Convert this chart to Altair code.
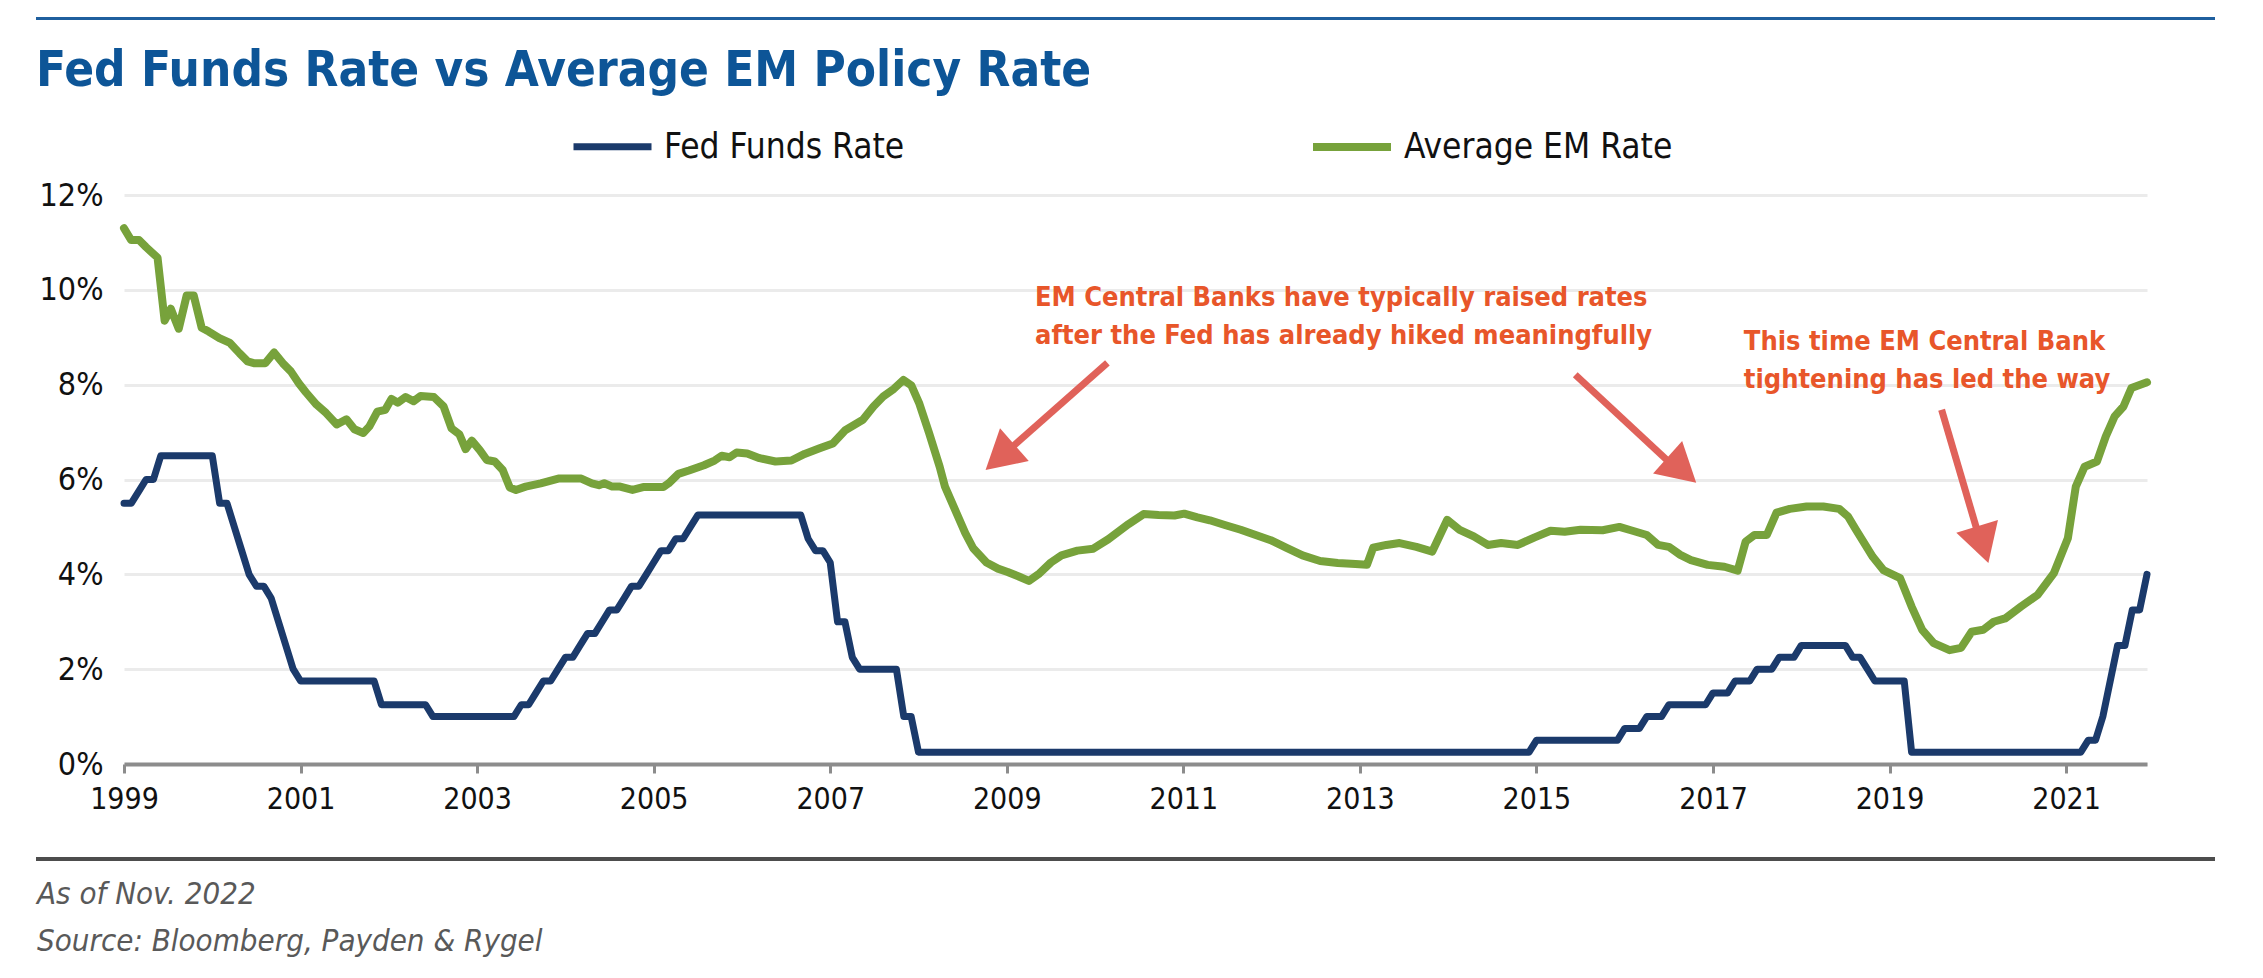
import altair as alt
import pandas as pd

FONT = "'DejaVu Sans Condensed', 'DejaVu Sans', sans-serif"

TITLE = "Fed Funds Rate vs Average EM Policy Rate"
SERIES = ["Fed Funds Rate", "Average EM Rate"]
COLORS = ["#1b3a6b", "#77a23b"]
WIDTHS = [7, 8]

X_START = 1999
LAST_MONTH = 275
x_ticks = list(range(1999, 2022, 2))
y_ticks = [0, 2, 4, 6, 8, 10, 12]

# Fed Funds Rate: month index from first observation (axis starts at "1999") and level, at each turn of the line
fed_month = [0, 1, 2, 3, 4, 5, 12, 13, 14, 15, 16, 17, 18, 19, 20, 21, 22, 23, 24, 34, 35, 41, 42, 53,
             54, 55, 56, 57, 58, 59, 60, 61, 62, 63, 64, 65, 66, 67, 68, 69, 70, 71, 72, 73, 74, 75, 76,
             77, 78, 92, 93, 94, 95, 96, 97, 98, 99, 100, 105, 106, 107, 108, 191, 192, 203, 204, 206,
             207, 209, 210, 215, 216, 218, 219, 221, 222, 224, 225, 227, 228, 234, 235, 236, 237, 238,
             242, 243, 266, 267, 268, 269, 270, 271, 272, 273, 274, 275]
fed_rate = [5.5, 5.5, 5.75, 6.0, 6.0, 6.5, 6.5, 5.5, 5.5, 5.0, 4.5, 4.0, 3.75, 3.75, 3.5, 3.0, 2.5, 2.0,
            1.75, 1.75, 1.25, 1.25, 1.0, 1.0,
            1.25, 1.25, 1.5, 1.75, 1.75, 2.0, 2.25, 2.25, 2.5, 2.75, 2.75, 3.0, 3.25, 3.25, 3.5, 3.75,
            3.75, 4.0, 4.25, 4.5, 4.5, 4.75, 4.75,
            5.0, 5.25, 5.25, 4.75, 4.5, 4.5, 4.25, 3.0, 3.0, 2.25, 2.0, 2.0, 1.0, 1.0, 0.25, 0.25, 0.5,
            0.5, 0.75, 0.75,
            1.0, 1.0, 1.25, 1.25, 1.5, 1.5, 1.75, 1.75, 2.0, 2.0, 2.25, 2.25, 2.5, 2.5, 2.25, 2.25, 2.0,
            1.75,
            1.75, 0.25, 0.25, 0.5, 0.5, 1.0, 1.75, 2.5, 2.5, 3.25, 3.25, 4.0]

# Average EM policy rate (axis years, %)
em_year = [1999.00, 1999.08, 1999.17, 1999.25, 1999.38, 1999.46, 1999.53, 1999.62, 1999.71, 1999.79,
           1999.88, 1999.96, 2000.08, 2000.20, 2000.31, 2000.40, 2000.48, 2000.60, 2000.70, 2000.80,
           2000.89, 2000.98, 2001.06, 2001.18, 2001.29, 2001.41, 2001.52, 2001.61, 2001.71, 2001.78,
           2001.87, 2001.96, 2002.03, 2002.10, 2002.19, 2002.28, 2002.36, 2002.51, 2002.62, 2002.71,
           2002.80, 2002.87, 2002.94, 2003.03, 2003.11, 2003.20, 2003.29, 2003.37, 2003.44, 2003.55,
           2003.72, 2003.92, 2004.18, 2004.30, 2004.38, 2004.44, 2004.53, 2004.62, 2004.76, 2004.88,
           2005.11, 2005.17, 2005.28, 2005.40, 2005.57, 2005.69, 2005.77, 2005.86, 2005.94, 2006.06,
           2006.20, 2006.38, 2006.56, 2006.71, 2006.88, 2007.03, 2007.17, 2007.37, 2007.49, 2007.60,
           2007.72, 2007.83, 2007.92, 2008.01, 2008.12, 2008.24, 2008.30, 2008.41, 2008.53, 2008.62,
           2008.77, 2008.90, 2009.01, 2009.13, 2009.25, 2009.37, 2009.50, 2009.62, 2009.80, 2009.98,
           2010.15, 2010.38, 2010.55, 2010.72, 2010.90, 2011.01, 2011.16, 2011.30, 2011.47, 2011.65,
           2011.82, 2011.99, 2012.17, 2012.35, 2012.55, 2012.75, 2012.95, 2013.08, 2013.15, 2013.30,
           2013.45, 2013.64, 2013.82, 2013.99, 2014.13, 2014.29, 2014.45, 2014.60, 2014.79, 2014.98,
           2015.16, 2015.32, 2015.50, 2015.75, 2015.94, 2016.07, 2016.25, 2016.38, 2016.50, 2016.63,
           2016.75, 2016.94, 2017.13, 2017.28, 2017.37, 2017.47, 2017.61, 2017.72, 2017.87, 2018.06,
           2018.25, 2018.43, 2018.53, 2018.62, 2018.81, 2018.93, 2019.12, 2019.25, 2019.37, 2019.50,
           2019.68, 2019.81, 2019.93, 2020.06, 2020.18, 2020.31, 2020.49, 2020.68, 2020.86, 2021.02,
           2021.11, 2021.21, 2021.35, 2021.45, 2021.55, 2021.65, 2021.74, 2021.917]
em_rate = [11.30, 11.05, 11.05, 10.90, 10.68, 9.35, 9.60, 9.18, 9.88, 9.88,
           9.20, 9.12, 8.98, 8.88, 8.66, 8.49, 8.45, 8.45, 8.68, 8.45,
           8.28, 8.03, 7.84, 7.58, 7.40, 7.16, 7.27, 7.06, 6.98, 7.12,
           7.43, 7.47, 7.70, 7.62, 7.74, 7.65, 7.76, 7.74, 7.54, 7.08,
           6.95, 6.64, 6.82, 6.62, 6.41, 6.38, 6.20, 5.83, 5.78, 5.85,
           5.92, 6.02, 6.02, 5.92, 5.88, 5.92, 5.85, 5.85, 5.78, 5.84,
           5.84, 5.92, 6.12, 6.19, 6.30, 6.40, 6.50, 6.47, 6.57, 6.55,
           6.45, 6.38, 6.40, 6.54, 6.66, 6.76, 7.04, 7.26, 7.54, 7.75,
           7.91, 8.10, 7.98, 7.60, 6.98, 6.27, 5.85, 5.38, 4.87, 4.55,
           4.25, 4.12, 4.05, 3.96, 3.86, 4.02, 4.25, 4.40, 4.50, 4.54,
           4.74, 5.06, 5.27, 5.25, 5.24, 5.28, 5.20, 5.14, 5.04, 4.94,
           4.83, 4.72, 4.56, 4.40, 4.28, 4.24, 4.22, 4.20, 4.56, 4.62,
           4.66, 4.58, 4.48, 5.15, 4.94, 4.80, 4.62, 4.66, 4.62, 4.78,
           4.92, 4.90, 4.94, 4.93, 5.00, 4.93, 4.83, 4.62, 4.58, 4.41,
           4.30, 4.20, 4.16, 4.08, 4.69, 4.83, 4.83, 5.30, 5.38, 5.43,
           5.43, 5.38, 5.22, 4.94, 4.37, 4.09, 3.92, 3.32, 2.83, 2.55,
           2.40, 2.45, 2.79, 2.83, 3.00, 3.07, 3.32, 3.57, 4.02, 4.76,
           5.85, 6.27, 6.38, 6.91, 7.33, 7.54, 7.93, 8.05]

# Annotations
ann_text = ["EM Central Banks have typically raised rates\nafter the Fed has already hiked meaningfully",
            "This time EM Central Bank\ntightening has led the way"]
ann_year = [2009.32, 2017.35]
ann_rate = [9.66, 8.74]

arrow_start_year = [2010.14, 2015.44, 2019.59]
arrow_start_rate = [8.46, 8.21, 7.47]
arrow_base_year = [2009.07, 2016.49, 2019.99]
arrow_base_rate = [6.70, 6.39, 4.94]
arrow_tip_year = [2008.76, 2016.81, 2020.12]
arrow_tip_rate = [6.20, 5.93, 4.24]
arrow_angle = [228.7, 131.8, 162.9]

footer_lines = ["As of Nov. 2022", "Source: Bloomberg, Payden & Rygel"]

# ---------------------------------------------------------------------------
fed_df = pd.DataFrame({"year": [X_START + m / 12 for m in fed_month], "rate": fed_rate, "series": SERIES[0]})
em_df = pd.DataFrame({"year": em_year, "rate": em_rate, "series": SERIES[1]})
lines_df = pd.concat([fed_df, em_df], ignore_index=True)

x_scale = alt.Scale(domain=[X_START, X_START + LAST_MONTH / 12], nice=False, zero=False)
y_scale = alt.Scale(domain=[0, 12], nice=False, zero=True)

lines = alt.Chart(lines_df).mark_line(strokeJoin="round", strokeCap="round").encode(
    x=alt.X("year:Q", scale=x_scale,
            axis=alt.Axis(values=x_ticks, format="d", title=None, grid=False,
                          domainColor="#8c8c8c", domainWidth=4, tickColor="#8c8c8c",
                          tickWidth=3, tickSize=9, labelFontSize=30, labelFont=FONT,
                          labelColor="#111111", labelPadding=11, labelFlush=False,
                          labelOverlap=False)),
    y=alt.Y("rate:Q", scale=y_scale,
            axis=alt.Axis(values=y_ticks, labelExpr="datum.value + '%'", title=None, grid=True,
                          gridColor="#ebebeb", gridWidth=3, domain=False, ticks=False,
                          labelFontSize=32, labelFont=FONT, labelColor="#111111",
                          labelPadding=21)),
    color=alt.Color("series:N", scale=alt.Scale(domain=SERIES, range=COLORS),
                    legend=alt.Legend(title=None, orient="none", legendX=446, legendY=-91,
                                      direction="horizontal", symbolType="stroke",
                                      symbolSize=6084, symbolStrokeWidth=8,
                                      labelFont=FONT, labelFontSize=35, labelColor="#111111",
                                      labelOffset=9, columnPadding=392, padding=0,
                                      labelLimit=600)),
    strokeWidth=alt.StrokeWidth("series:N", scale=alt.Scale(domain=SERIES, range=WIDTHS), legend=None),
)

ann_df = pd.DataFrame({"year": ann_year, "rate": ann_rate, "label": ann_text})
annotations = alt.Chart(ann_df).mark_text(
    align="left", baseline="alphabetic", font=FONT, fontSize=27, fontWeight="bold",
    color="#e8562a", lineBreak="\n", lineHeight=38
).encode(x=alt.X("year:Q", title=None), y=alt.Y("rate:Q", title=None), text="label:N")

shaft_df = pd.DataFrame({"year": arrow_start_year, "rate": arrow_start_rate,
                         "year2": arrow_base_year, "rate2": arrow_base_rate})
shafts = alt.Chart(shaft_df).mark_rule(strokeWidth=7, color="#e0625a").encode(
    x=alt.X("year:Q", title=None), y=alt.Y("rate:Q", title=None), x2="year2:Q", y2="rate2:Q")

head_df = pd.DataFrame({"year": arrow_tip_year, "rate": arrow_tip_rate, "angle": arrow_angle})
heads = alt.Chart(head_df).mark_point(
    shape="M0,0L1,1.76L-1,1.76Z", size=1900, filled=True, opacity=1, color="#e0625a", strokeWidth=0
).encode(x=alt.X("year:Q", title=None), y=alt.Y("rate:Q", title=None),
         angle=alt.Angle("angle:Q", scale=None))

one = pd.DataFrame({"t": [TITLE]})
title = alt.Chart(one).mark_text(
    align="left", baseline="alphabetic", font=FONT, fontSize=49, fontWeight="bold", color="#0d5597"
).encode(x=alt.value(-88), y=alt.value(-109), text="t:N")

top_rule = alt.Chart(one).mark_rule(color="#1f5f9e", strokeWidth=3).encode(
    x=alt.value(-88), x2=alt.value(2091), y=alt.value(-176.5))
foot_rule = alt.Chart(one).mark_rule(color="#4d4d4d", strokeWidth=4).encode(
    x=alt.value(-88), x2=alt.value(2091), y=alt.value(664))

foot1 = alt.Chart(pd.DataFrame({"t": [footer_lines[0]]})).mark_text(
    align="left", baseline="alphabetic", font=FONT, fontSize=31, fontStyle="italic", color="#595959"
).encode(x=alt.value(-87), y=alt.value(709), text="t:N")
foot2 = alt.Chart(pd.DataFrame({"t": [footer_lines[1]]})).mark_text(
    align="left", baseline="alphabetic", font=FONT, fontSize=31, fontStyle="italic", color="#595959"
).encode(x=alt.value(-87), y=alt.value(756), text="t:N")

chart = alt.layer(
    lines, shafts, heads, annotations, title, top_rule, foot_rule, foot1, foot2
).properties(
    width=2023, height=569,
    autosize=alt.AutoSizeParams(type="none"),
    padding={"left": 116, "top": 187, "right": 100, "bottom": 200},
).configure_view(stroke=None)

chart.save("out.html", embed_options={"renderer": "svg", "actions": False})
